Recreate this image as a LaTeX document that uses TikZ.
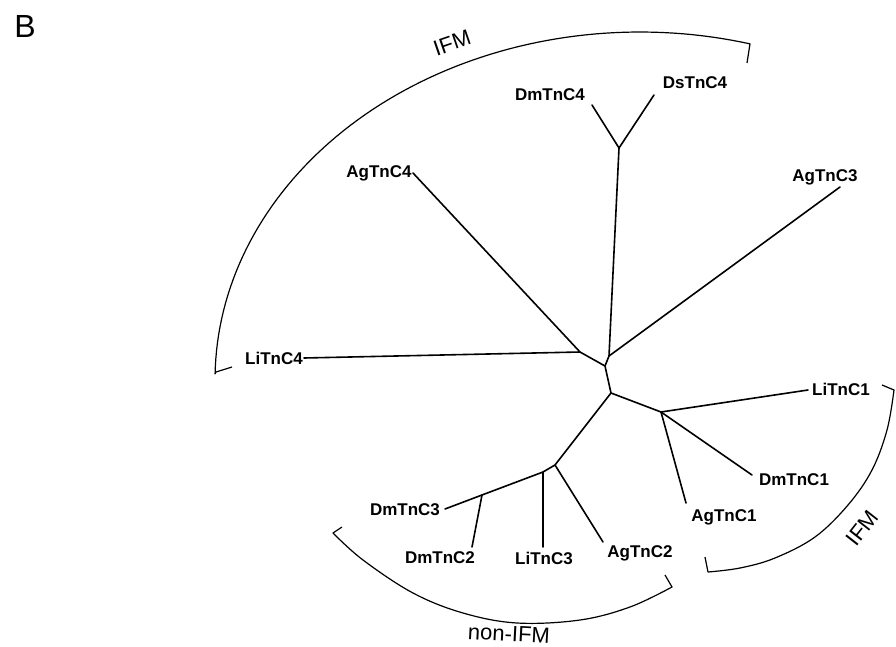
\documentclass[tikz,border=0pt]{standalone}
\usepackage{fontspec}
\setmainfont{Liberation Sans}
\begin{document}
\begin{tikzpicture}[x=1pt,y=-1pt,
  leaf/.style={font=\fontsize{17}{17}\selectfont\bfseries, inner sep=0pt},
  branch/.style={line width=1.6pt, line cap=round, line join=round},
  bracket/.style={line width=1.2pt, line join=round},
  grp/.style={font=\fontsize{22}{22}\selectfont, inner sep=0pt}]
\useasboundingbox (0,0) rectangle (896,647);
\fill[white] (0,0) rectangle (896,647);
\node[font=\fontsize{32}{32}\selectfont, inner sep=0pt] (B) at (25,26) {B};
% internal nodes
\coordinate (n1) at (619,148);
\coordinate (n2) at (609,356);
\coordinate (n3) at (580,352);
\coordinate (n4) at (605,366);
\coordinate (n5) at (611,393);
\coordinate (n6) at (661,412);
\coordinate (n7) at (555,465);
\coordinate (n8) at (543,472);
\coordinate (n9) at (482,495);
% leaf tips
\coordinate (tDmC4) at (592,105);
\coordinate (tDsC4) at (654,95);
\coordinate (tAgC3) at (840,187);
\coordinate (tAgC4) at (413,173);
\coordinate (tLiC4) at (304,358);
\coordinate (tLiC1) at (808,390);
\coordinate (tDmC1) at (752,475);
\coordinate (tAgC1) at (686,503);
\coordinate (tAgC2) at (603,542);
\coordinate (tLiC3) at (543,547);
\coordinate (tDmC2) at (472,547);
\coordinate (tDmC3) at (445,509);
% labels
\node[leaf] (DmTnC4) at (550,95) {DmTnC4};
\node[leaf] (DsTnC4) at (695,83) {DsTnC4};
\node[leaf] (AgTnC3) at (825,177) {AgTnC3};
\node[leaf] (AgTnC4) at (379,173) {AgTnC4};
\node[leaf] (LiTnC4) at (274,358) {LiTnC4};
\node[leaf] (LiTnC1) at (841,389) {LiTnC1};
\node[leaf] (DmTnC1) at (794,480) {DmTnC1};
\node[leaf] (AgTnC1) at (724,517) {AgTnC1};
\node[leaf] (AgTnC2) at (640,553) {AgTnC2};
\node[leaf] (LiTnC3) at (544,558) {LiTnC3};
\node[leaf] (DmTnC2) at (440,558) {DmTnC2};
\node[leaf] (DmTnC3) at (405,510) {DmTnC3};
% branches
\draw[branch] (tDmC4) -- (n1) -- (tDsC4);
\draw[branch] (n1) -- (n2) -- (tAgC3);
\draw[branch] (n2) -- (n4);
\draw[branch] (tAgC4) -- (n3) -- (tLiC4);
\draw[branch] (n3) -- (n4) -- (n5) -- (n6);
\draw[branch] (n6) -- (tLiC1);
\draw[branch] (n6) -- (tDmC1);
\draw[branch] (n6) -- (tAgC1);
\draw[branch] (n5) -- (n7) -- (tAgC2);
\draw[branch] (n7) -- (n8) -- (tLiC3);
\draw[branch] (n8) -- (n9) -- (tDmC3);
\draw[branch] (n9) -- (tDmC2);
% brackets
\draw[bracket] (232,367) -- (216,372) -- plot[domain=179:75, samples=80] ({640+425*cos(\x)}, {380-348*sin(\x)}) -- (747,63);
\draw[bracket] (882,385) -- (894,390) -- plot[smooth, tension=0.6] coordinates {(894,390) (887,430) (872,470) (848,505) (815,537) (775,558) (740,568) (708,572)} -- (705,557);
\draw[bracket] (342,527) -- (333,533) -- plot[smooth, tension=0.6] coordinates {(333,533) (363,560) (413,593) (463,613) (517,623) (580,620) (630,607) (672,587)} -- (665,575);
\node[grp, rotate=19] (ifmtop) at (452,43) {IFM};
\node[grp, rotate=52] (ifmright) at (862,528) {IFM};
\node[grp, rotate=-3] (nonifm) at (509,634) {non-IFM};
\end{tikzpicture}
\end{document}
